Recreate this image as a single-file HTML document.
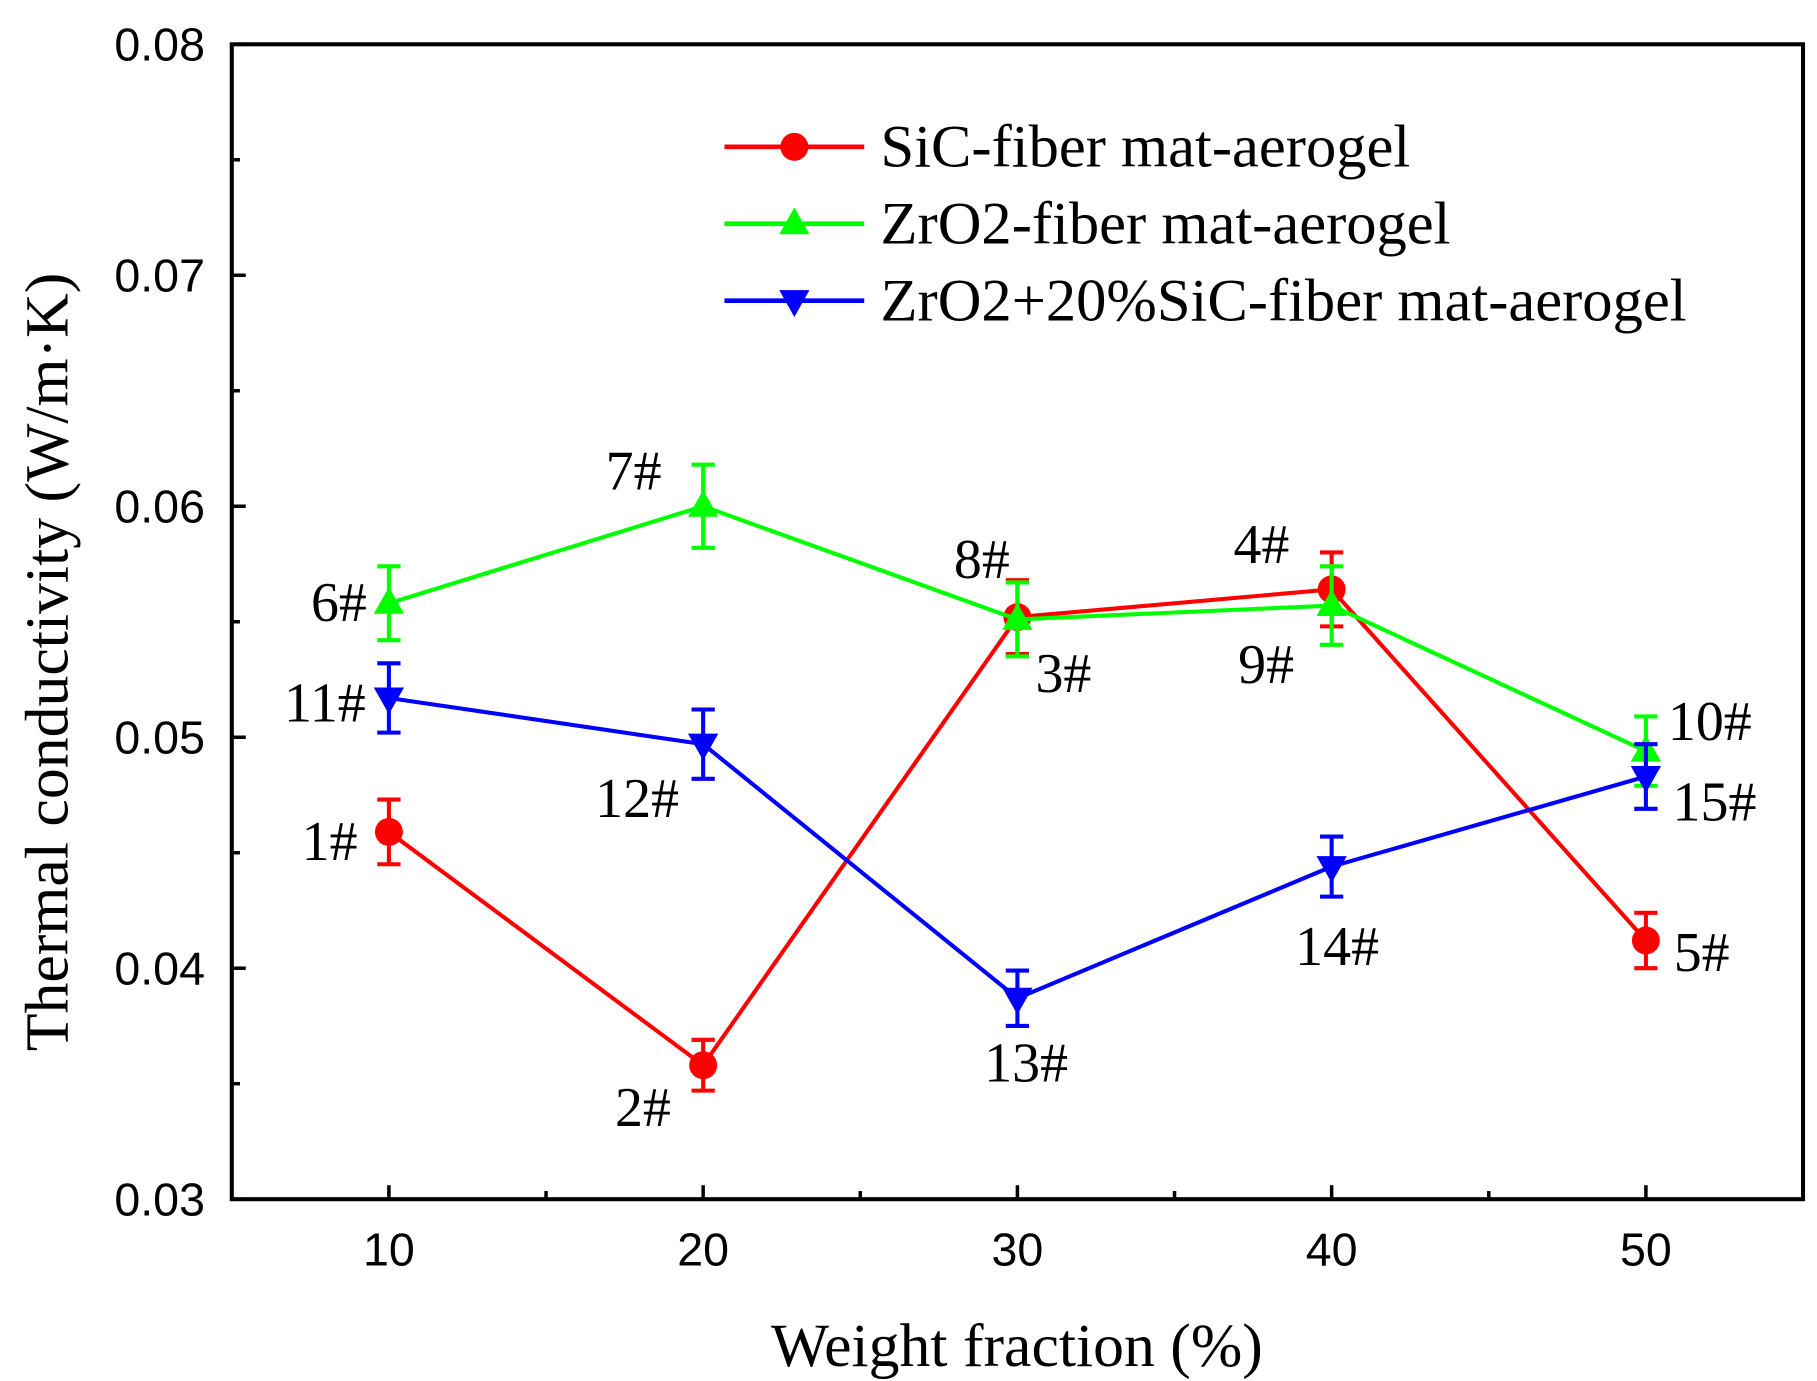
<!DOCTYPE html>
<html><head><meta charset="utf-8"><style>html,body{margin:0;padding:0;background:#fff}svg{display:block}</style></head>
<body>
<svg id="chart" width="1817" height="1381" viewBox="0 0 1560 1185" preserveAspectRatio="none" xmlns="http://www.w3.org/2000/svg">
<rect x="199" y="38" width="1349" height="991" fill="none" stroke="#000" stroke-width="3.5"/>
<g id="axes"></g>
<g id="series"></g>
<g id="labels" font-family="Liberation Serif, serif" font-size="48" fill="#000"></g>
<text x="873" y="1172" text-anchor="middle" font-family="Liberation Serif, serif" font-size="53">Weight fraction (%)</text>
<text transform="translate(58,568) rotate(-90)" text-anchor="middle" font-family="Liberation Serif, serif" font-size="53">Thermal conductivity (W/m·K)</text>
<g font-family="Liberation Serif, serif" font-size="52">
 <line x1="622" y1="126" x2="742" y2="126" stroke="#f00" stroke-width="4"/><circle cx="682" cy="126" r="12" fill="#f00"/>
 <text x="756" y="143">SiC-fiber mat-aerogel</text>
 <line x1="622" y1="192" x2="742" y2="192" stroke="#0f0" stroke-width="4"/><path d="M682,178 L695,201 L669,201 Z" fill="#0f0"/>
 <text x="756" y="209">ZrO2-fiber mat-aerogel</text>
 <line x1="622" y1="258" x2="742" y2="258" stroke="#00f" stroke-width="4"/><path d="M669,249 L695,249 L682,272 Z" fill="#00f"/>
 <text x="756" y="275">ZrO2+20%SiC-fiber mat-aerogel</text>
</g>
</svg>
<script>
const categories=[10,20,30,40,50];
const sicValues=[0.0459,0.0358,0.0552,0.0564,0.0412];
const sicErr=[0.0014,0.0011,0.0016,0.0016,0.0012];
const zrValues=[0.0558,0.0600,0.0551,0.0557,0.0494];
const zrErr=[0.0016,0.0018,0.0016,0.0017,0.0015];
const mixValues=[0.0517,0.0497,0.0387,0.0444,0.0483];
const mixErr=[0.0015,0.0015,0.0012,0.0013,0.0014];
const yTicks=["0.03","0.04","0.05","0.06","0.07","0.08"];
const xTicks=["10","20","30","40","50"];
const sicLabels=["1#","2#","3#","4#","5#"];
const zrLabels=["6#","7#","8#","9#","10#"];
const mixLabels=["11#","12#","13#","14#","15#"];
const NS="http://www.w3.org/2000/svg";
const X=v=>199+(v-5)/50*1349;
const Y=v=>1029-(v-0.03)/0.05*991;
function mk(tag,attrs,parent){const e=document.createElementNS(NS,tag);for(const k in attrs)e.setAttribute(k,attrs[k]);parent.appendChild(e);return e;}
const axes=document.getElementById('axes');
for(let i=0;i<=10;i++){const v=0.03+i*0.005;const y=Y(v);
 const t=mk('line',{x1:199,x2:199+(i%2?7:12),y1:y,y2:y,stroke:'#000','stroke-width':3},axes);
 
 }
yTicks.forEach(s=>{const t=mk('text',{x:176,y:Y(+s)+14,'text-anchor':'end','font-family':'Liberation Sans, sans-serif','font-size':40},axes);t.textContent=s;
 
 });
for(let v=10;v<=50;v+=5){const x=X(v);
 const t=mk('line',{x1:x,x2:x,y1:1029,y2:1029-(v%10?7:12),stroke:'#000','stroke-width':3},axes);
 
 }
xTicks.forEach(s=>{const t=mk('text',{x:X(+s),y:1086,'text-anchor':'middle','font-family':'Liberation Sans, sans-serif','font-size':40},axes);t.textContent=s;
 
 });
const ser=document.getElementById('series');
function series(vals,errs,color,marker,name){
 const g=mk('g',{},ser);
 
 
 const pl=mk('polyline',{points:vals.map((v,i)=>X(categories[i])+','+Y(v)).join(' '),fill:'none',stroke:color,'stroke-width':3.5},g);
 
 
 vals.forEach((v,i)=>{const x=X(categories[i]),y1=Y(v+errs[i]),y2=Y(v-errs[i]);
  const eb=mk('path',{d:`M${x},${y1}V${y2}M${x-10},${y1}H${x+10}M${x-10},${y2}H${x+10}`,stroke:color,'stroke-width':3.5,fill:'none'},g);
  
  
  const y=Y(v);let m;
  if(marker==='c')m=mk('circle',{cx:x,cy:y,r:12,fill:color},g);
  else if(marker==='u')m=mk('path',{d:`M${x},${y-14}L${x+13},${y+9}L${x-13},${y+9}Z`,fill:color},g);
  else m=mk('path',{d:`M${x-13},${y-9}L${x+13},${y-9}L${x},${y+14}Z`,fill:color},g);
  
  });
}
series(sicValues,sicErr,'#f00','c','sic');
series(zrValues,zrErr,'#0f0','u','zro2');
series(mixValues,mixErr,'#00f','d','zro2-sic');
const lab=document.getElementById('labels');
const labPos=[
 [sicLabels,[[307,738,'end'],[528,966,'start'],[889,594,'start'],[1059,483,'start'],[1437,833,'start']]],
 [zrLabels,[[315,533,'end'],[520,420,'start'],[819,496,'start'],[1063,586,'start'],[1432,635,'start']]],
 [mixLabels,[[314,619,'end'],[511,701,'start'],[845,928,'start'],[1112,828,'start'],[1436,704,'start']]]];
labPos.forEach(([names,pos])=>names.forEach((s,i)=>{const t=mk('text',{x:pos[i][0],y:pos[i][1],'text-anchor':pos[i][2]},lab);t.textContent=s;
 
 }));
</script>
</body></html>
